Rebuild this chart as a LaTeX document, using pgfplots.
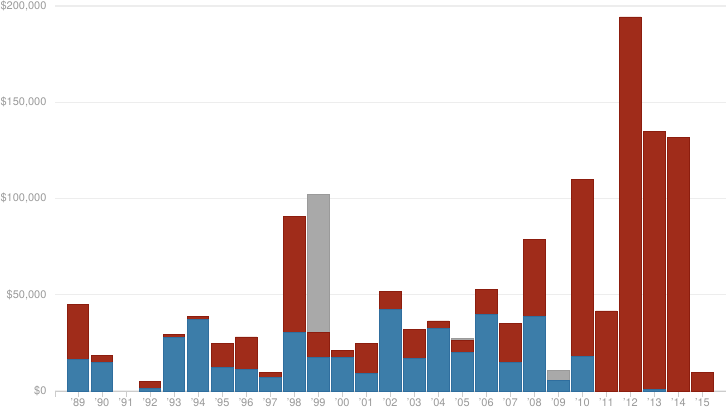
\documentclass[border=0pt]{standalone}
\usepackage{pgfplots}
\pgfplotsset{compat=1.18}
\usepackage{fontspec}
\setmainfont{TeX Gyre Heros}
\definecolor{cblue}{HTML}{3C7DA9}
\definecolor{cbluedk}{HTML}{2F6E9E}
\definecolor{cred}{HTML}{A02C1A}
\definecolor{creddk}{HTML}{8C1D0E}
\definecolor{cgray}{HTML}{A9A9A9}
\definecolor{cgraydk}{HTML}{9A9A9A}
\definecolor{txt}{HTML}{9A9A9A}
\definecolor{grid}{HTML}{EDEDED}
\definecolor{axl}{HTML}{CCCCCC}
\begin{document}
\begin{tikzpicture}
\path[use as bounding box] (-55pt,-18pt) rectangle (671pt,391pt);
\begin{axis}[
  at={(0,0)}, anchor=south west,
  scale only axis, width=671pt, height=385pt,
  xmin=-0.958, xmax=26.98, ymin=0, ymax=200000,
  ybar, bar width=21.5pt, bar shift=0pt,
  axis x line*=bottom, axis y line*=left,
  x axis line style={axl, line width=0.8pt},
  y axis line style={draw=none},
  xtick={0,...,26},
  xticklabels={'89,'90,'91,'92,'93,'94,'95,'96,'97,'98,'99,'00,'01,'02,'03,'04,'05,'06,'07,'08,'09,'10,'11,'12,'13,'14,'15},
  extra x ticks={-0.958,26.98}, extra x tick labels={},
  extra x tick style={grid=none},
  xmajorgrids=false,
  xtick align=outside, major tick length=6pt,
  xtick style={axl, line width=0.8pt},
  ytick={0,50000,100000,150000,200000},
  yticklabels={\$0,\$50{,}000,\$100{,}000,\$150{,}000,\$200{,}000},
  ytick style={draw=none},
  ymajorgrids, y grid style={grid, line width=1.3pt},
  tick label style={font=\fontsize{11}{12}\selectfont, text=txt},
  yticklabel style={xshift=-5pt},
  xticklabel style={yshift=2.5pt},
  clip=false,
]
\addplot[fill=cgray, draw=cgraydk, line width=0.7pt] coordinates {
(10,101900) (16,27300) (20,10700)};
\addplot[fill=cred, draw=creddk, line width=0.7pt] coordinates {
(0,44800) (1,18300) (3,5000) (4,29400) (5,38700) (6,24700) (7,28100) (8,9700)
(9,90500) (10,30400) (11,20900) (12,24500) (13,51600) (14,31800) (15,36400)
(16,26300) (17,52700) (18,35100) (19,78600) (21,109700) (22,41600) (23,194300)
(24,134900) (25,131900) (26,9500)};
\addplot[fill=cblue, draw=cbluedk, line width=0.7pt] coordinates {
(0,16600) (1,14900) (3,1400) (4,28000) (5,37100) (6,12300) (7,11200) (8,7100)
(9,30400) (10,17500) (11,17500) (12,9200) (13,42300) (14,16900) (15,32500)
(16,20000) (17,39700) (18,14900) (19,38900) (20,5700) (21,18000) (24,1000)};
\end{axis}
\end{tikzpicture}
\end{document}
